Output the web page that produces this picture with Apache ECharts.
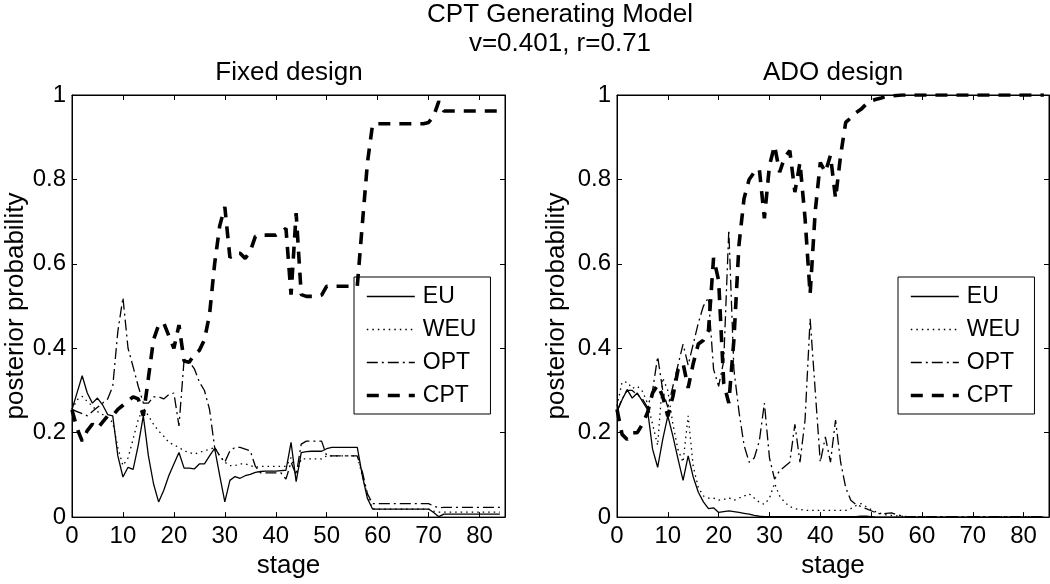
<!DOCTYPE html>
<html><head><meta charset="utf-8">
<script src="https://cdn.jsdelivr.net/npm/echarts@6/dist/echarts.min.js"></script>
<style>html,body{margin:0;padding:0;background:#fff}#c{width:1050px;height:584px}</style>
</head><body><div id="c"></div>
<script>
// ---------- data: posterior probability per stage (stage = array index 0..84) ----------
const mainTitle = "CPT Generating Model";
const subTitle = "v=0.401, r=0.71";
const panelTitles = ["Fixed design", "ADO design"];
const modelNames = ["EU", "WEU", "OPT", "CPT"];

const fixedEU = [0.255,0.295,0.335,0.294,0.27,0.282,0.266,0.243,0.24,0.145,
  0.095,0.118,0.113,0.17,0.24,0.145,0.079,0.036,0.063,0.098,
  0.126,0.153,0.116,0.116,0.114,0.126,0.126,0.145,0.163,0.098,
  0.036,0.087,0.096,0.092,0.098,0.101,0.106,0.108,0.109,0.109,
  0.109,0.11,0.111,0.177,0.084,0.153,0.155,0.156,0.156,0.156,
  0.162,0.165,0.165,0.165,0.165,0.165,0.165,0.098,0.044,0.019,
  0.019,0.019,0.019,0.019,0.019,0.019,0.019,0.019,0.019,0.019,
  0.019,0.011,0.001,0.007,0.007,0.007,0.007,0.007,0.007,0.007,
  0.007,0.007,0.007,0.007,0.007];
const fixedWEU = [0.255,0.278,0.286,0.274,0.263,0.25,0.243,0.235,0.224,0.165,
  0.122,0.14,0.185,0.231,0.259,0.24,0.22,0.204,0.192,0.177,
  0.171,0.165,0.157,0.153,0.149,0.153,0.157,0.161,0.165,0.145,
  0.13,0.122,0.122,0.126,0.126,0.122,0.118,0.12,0.12,0.12,
  0.12,0.12,0.12,0.141,0.1,0.138,0.138,0.138,0.138,0.138,
  0.145,0.145,0.145,0.145,0.145,0.145,0.145,0.098,0.05,0.02,
  0.019,0.019,0.019,0.019,0.019,0.019,0.019,0.019,0.019,0.019,
  0.019,0.014,0.012,0.012,0.012,0.012,0.012,0.012,0.012,0.012,
  0.012,0.012,0.012,0.012,0.012];
const fixedOPT = [0.255,0.25,0.245,0.24,0.25,0.26,0.27,0.28,0.31,0.44,
  0.52,0.4,0.356,0.31,0.27,0.27,0.285,0.285,0.28,0.29,
  0.294,0.216,0.372,0.368,0.352,0.32,0.3,0.255,0.165,0.145,
  0.13,0.157,0.165,0.165,0.161,0.157,0.12,0.105,0.105,0.105,
  0.105,0.105,0.09,0.13,0.1,0.173,0.18,0.18,0.18,0.18,
  0.145,0.145,0.145,0.145,0.145,0.145,0.145,0.107,0.055,0.032,
  0.032,0.032,0.032,0.032,0.032,0.032,0.032,0.032,0.032,0.032,
  0.032,0.026,0.022,0.023,0.023,0.023,0.023,0.023,0.023,0.023,
  0.023,0.023,0.023,0.023,0.023];
const fixedCPT = [0.254,0.21,0.18,0.205,0.22,0.21,0.225,0.24,0.24,0.255,
  0.265,0.275,0.285,0.28,0.24,0.33,0.42,0.455,0.46,0.43,
  0.4,0.455,0.37,0.367,0.385,0.395,0.42,0.48,0.6,0.69,
  0.735,0.615,0.625,0.625,0.613,0.63,0.665,0.668,0.668,0.668,
  0.668,0.675,0.684,0.527,0.72,0.527,0.523,0.523,0.523,0.526,
  0.547,0.547,0.547,0.547,0.547,0.547,0.547,0.695,0.84,0.93,
  0.932,0.932,0.932,0.932,0.932,0.932,0.932,0.932,0.932,0.932,
  0.935,0.95,0.985,0.962,0.962,0.962,0.962,0.962,0.962,0.962,
  0.962,0.962,0.962,0.962,0.962];

const adoEU = [0.25,0.278,0.302,0.282,0.294,0.274,0.255,0.161,0.118,0.184,
  0.24,0.192,0.138,0.087,0.145,0.095,0.059,0.036,0.02,0.022,
  0.011,0.013,0.015,0.013,0.011,0.009,0.007,0.004,0.002,0.001,
  0.001,0.001,0.001,0.001,0.001,0.001,0.001,0.001,0.001,0.001,
  0.001,0.001,0.001,0.001,0.001,0.001,0.001,0.001,0.002,0.002,
  0.001,0,0,0,0,0,0,0,0,0,
  0,0,0,0,0,0,0,0,0,0,
  0,0,0,0,0,0,0,0,0,0,
  0,0,0,0,0];
const adoWEU = [0.263,0.32,0.32,0.305,0.31,0.298,0.27,0.22,0.17,0.33,
  0.3,0.22,0.16,0.13,0.24,0.12,0.07,0.05,0.045,0.045,
  0.04,0.042,0.046,0.04,0.045,0.05,0.055,0.045,0.035,0.03,
  0.045,0.08,0.05,0.035,0.025,0.02,0.018,0.016,0.016,0.016,
  0.016,0.016,0.016,0.016,0.016,0.016,0.02,0.027,0.032,0.025,
  0.018,0.012,0.008,0.005,0.004,0.003,0.002,0.001,0.001,0.001,
  0.001,0.001,0.001,0.001,0.001,0.001,0.001,0.001,0.001,0.001,
  0.001,0.001,0.001,0.001,0.001,0.001,0.001,0.001,0.001,0.001,
  0.001,0.001,0.001,0.001,0.001];
const adoOPT = [0.25,0.28,0.3,0.3,0.29,0.28,0.26,0.3,0.38,0.3,
  0.26,0.31,0.36,0.41,0.36,0.41,0.46,0.5,0.52,0.35,
  0.31,0.37,0.68,0.35,0.25,0.17,0.13,0.14,0.18,0.27,
  0.14,0.09,0.11,0.12,0.13,0.22,0.13,0.23,0.47,0.3,
  0.13,0.19,0.13,0.23,0.13,0.07,0.04,0.03,0.025,0.02,
  0.015,0.01,0.007,0.009,0.01,0.006,0.003,0.001,0.001,0.001,
  0.001,0.001,0.001,0.001,0.001,0.001,0.001,0.001,0.001,0.001,
  0.001,0.001,0.001,0.001,0.001,0.001,0.001,0.001,0.001,0.001,
  0.001,0.001,0.001,0.001,0.001];
const adoCPT = [0.255,0.196,0.184,0.2,0.2,0.22,0.247,0.294,0.313,0.286,
  0.239,0.286,0.349,0.364,0.306,0.364,0.41,0.419,0.442,0.614,
  0.56,0.317,0.27,0.42,0.645,0.755,0.8,0.817,0.825,0.708,
  0.833,0.88,0.817,0.853,0.868,0.77,0.84,0.708,0.528,0.724,
  0.84,0.817,0.857,0.755,0.857,0.935,0.946,0.958,0.966,0.978,
  0.986,0.99,0.993,0.997,0.998,0.999,1,1,1,1,
  1,1,1,1,1,1,1,1,1,1,
  1,1,1,1,1,1,1,1,1,1,
  1,1,1,1,1];

const fixedSeries = [fixedEU, fixedWEU, fixedOPT, fixedCPT];
const adoSeries = [adoEU, adoWEU, adoOPT, adoCPT];

// ---------- styles ----------
const FONT = "'Liberation Sans', Arial, Helvetica, sans-serif";
const lineStyles = [
  { color: '#000', width: 1.3, type: 'solid' },
  { color: '#000', width: 1.3, type: [1.5, 4] },
  { color: '#000', width: 1.3, type: [11, 4, 2, 4] },
  { color: '#000', width: 3.6, type: [12, 9] }
];

const grids = [
  { left: 72, top: 95, width: 433, height: 427 },
  { left: 617, top: 95, width: 432, height: 427 }
];

function xAx(g, pos) {
  const bottom = pos === 'bottom';
  return {
    type: 'value', gridIndex: g, position: pos, min: 0, max: 85, interval: 10,
    axisLine: { show: true, onZero: false, lineStyle: { color: '#000', width: 1 } },
    axisTick: { show: true, inside: true, length: 5, lineStyle: { color: '#000' } },
    axisLabel: { show: bottom, showMaxLabel: false, color: '#000', fontSize: 24, fontFamily: FONT, margin: 7 },
    splitLine: { show: false },
    name: bottom ? 'stage' : '', nameLocation: 'middle', nameGap: 33,
    nameTextStyle: { color: '#000', fontSize: 26, fontFamily: FONT }
  };
}
function yAx(g, pos, gap) {
  const left = pos === 'left';
  return {
    type: 'value', gridIndex: g, position: pos, min: 0, max: 1, interval: 0.2,
    axisLine: { show: true, onZero: false, lineStyle: { color: '#000', width: 1 } },
    axisTick: { show: true, inside: true, length: 5, lineStyle: { color: '#000' } },
    axisLabel: { show: left, color: '#000', fontSize: 24, fontFamily: FONT, margin: 6 },
    splitLine: { show: false },
    name: left ? 'posterior probability' : '', nameLocation: 'middle', nameGap: gap, nameRotate: 90,
    nameTextStyle: { color: '#000', fontSize: 26, fontFamily: FONT }
  };
}

const series = [];
[fixedSeries, adoSeries].forEach((set, p) => {
  set.forEach((vals, k) => {
    series.push({
      name: modelNames[k], type: 'line', xAxisIndex: p * 2, yAxisIndex: p * 2,
      data: vals.map((v, i) => [i, v]),
      symbol: 'none', smooth: false, lineStyle: lineStyles[k], itemStyle: { color: '#000' },
      z: k === 3 ? 5 : 3
    });
  });
});

function legendAt(left) {
  return {
    data: modelNames, orient: 'vertical', left: left, top: 277,
    itemWidth: 48, itemHeight: 14, itemGap: 10,
    padding: [8, 14, 7, 11],
    borderColor: '#000', borderWidth: 1, borderRadius: 0, backgroundColor: '#fff',
    textStyle: { color: '#000', fontSize: 23, fontFamily: FONT, padding: [0, 0, 0, 3] },
    lineStyle: { width: 'inherit' },
    itemStyle: { opacity: 0, borderWidth: 0 },
    selectedMode: false
  };
}

const option = {
  animation: false,
  backgroundColor: '#fff',
  grid: grids.map(g => Object.assign({ show: true, borderColor: '#000', borderWidth: 1, backgroundColor: 'transparent' }, g)),
  xAxis: [xAx(0, 'bottom'), xAx(0, 'top'), xAx(1, 'bottom'), xAx(1, 'top')],
  yAxis: [yAx(0, 'left', 39), yAx(0, 'right', 0), yAx(1, 'left', 47), yAx(1, 'right', 0)],
  legend: [legendAt(354), legendAt(898)],
  series: series,
  graphic: [
    { type: 'text', x: 560, y: 15, style: { text: mainTitle, font: '26px ' + FONT, fill: '#000', align: 'center', verticalAlign: 'middle' } },
    { type: 'text', x: 560, y: 44, style: { text: subTitle, font: '26px ' + FONT, fill: '#000', align: 'center', verticalAlign: 'middle' } },
    { type: 'text', x: 289, y: 73, style: { text: panelTitles[0], font: '26px ' + FONT, fill: '#000', align: 'center', verticalAlign: 'middle' } },
    { type: 'text', x: 833, y: 73, style: { text: panelTitles[1], font: '26px ' + FONT, fill: '#000', align: 'center', verticalAlign: 'middle' } }
  ]
};

const chart = echarts.init(document.getElementById('c'), null, { renderer: 'canvas' });
chart.setOption(option);
</script>
</body></html>
